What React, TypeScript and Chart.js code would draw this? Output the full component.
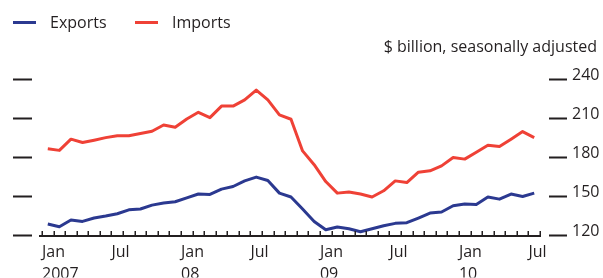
import React, { useEffect, useRef } from 'react';
import { Chart, registerables } from 'chart.js';

Chart.register(...registerables);

const months = [
  'Jan 2007', 'Feb 2007', 'Mar 2007', 'Apr 2007', 'May 2007', 'Jun 2007', 'Jul 2007', 'Aug 2007', 'Sep 2007', 'Oct 2007', 'Nov 2007', 'Dec 2007',
  'Jan 2008', 'Feb 2008', 'Mar 2008', 'Apr 2008', 'May 2008', 'Jun 2008', 'Jul 2008', 'Aug 2008', 'Sep 2008', 'Oct 2008', 'Nov 2008', 'Dec 2008',
  'Jan 2009', 'Feb 2009', 'Mar 2009', 'Apr 2009', 'May 2009', 'Jun 2009', 'Jul 2009', 'Aug 2009', 'Sep 2009', 'Oct 2009', 'Nov 2009', 'Dec 2009',
  'Jan 2010', 'Feb 2010', 'Mar 2010', 'Apr 2010', 'May 2010', 'Jun 2010', 'Jul 2010',
];

const exportsData = [
  129.5, 127.4, 132.6, 131.5, 134.1, 135.6, 137.4, 140.4, 141.0, 144.0, 145.6, 146.6,
  149.6, 152.5, 152.2, 156.3, 158.3, 162.6, 165.5, 162.9, 153.2, 150.2, 141.0, 131.5,
  125.1, 127.2, 125.9, 123.6, 125.9, 128.2, 130.0, 130.5, 134.1, 137.9, 138.7, 143.5,
  144.8, 144.5, 150.2, 148.6, 152.5, 150.6, 153.2,
];

const importsData = [
  187.2, 186.0, 194.6, 192.0, 193.8, 195.8, 197.3, 197.3, 198.9, 200.7, 205.5, 203.8,
  210.1, 215.2, 211.1, 220.0, 220.0, 224.7, 232.3, 224.7, 213.2, 209.9, 185.6, 175.0,
  162.1, 153.2, 154.0, 152.5, 150.2, 155.0, 162.6, 161.3, 169.3, 170.3, 174.1, 180.5,
  179.3, 184.6, 190.0, 188.9, 194.6, 200.4, 195.8,
];

const yTicks = [120, 150, 180, 210, 240];

const xLabelIndex = [0, 6, 12, 18, 24, 30, 36, 42];
const xLabelMonth = ['Jan', 'Jul', 'Jan', 'Jul', 'Jan', 'Jul', 'Jan', 'Jul'];
const xLabelYear = ['2007', '', '08', '', '09', '', '10', ''];

const seriesNames = ['Exports', 'Imports'];
const seriesColors = ['#2b3990', '#ef4136'];
const unitText = '$ billion, seasonally adjusted';

const FONT = '"Open Sans", "Noto Sans", sans-serif';
const INK = '#231f20';

const decor = {
  id: 'decor',
  afterDraw(chart: any) {
    const { ctx, chartArea, scales } = chart;
    const xs = scales.x;
    const ys = scales.y;
    ctx.save();
    ctx.strokeStyle = INK;
    ctx.fillStyle = INK;

    // baseline
    const by = chartArea.bottom - 0.5;
    ctx.lineWidth = 2;
    ctx.beginPath();
    ctx.moveTo(chartArea.left - 3, by);
    ctx.lineTo(chartArea.right + 1, by);
    ctx.stroke();

    // month ticks pointing up
    ctx.lineWidth = 1.5;
    ctx.beginPath();
    for (let i = 0; i <= months.length; i++) {
      const px = Math.round(xs.getPixelForValue(i - 0.5)) + 0.25;
      ctx.moveTo(px, by);
      ctx.lineTo(px, by - 5);
    }
    ctx.stroke();

    // y dashes on both sides
    ctx.lineWidth = 2;
    ctx.beginPath();
    yTicks.forEach((v) => {
      const py = Math.round(ys.getPixelForValue(v)) - 0.5;
      ctx.moveTo(13, py);
      ctx.lineTo(32, py);
      ctx.moveTo(chartArea.right + 9, py);
      ctx.lineTo(chartArea.right + 27, py);
    });
    ctx.stroke();

    // legend
    ctx.font = `16px ${FONT}`;
    ctx.textBaseline = 'alphabetic';
    ctx.textAlign = 'left';
    const legendX = [13, 135];
    seriesNames.forEach((name, i) => {
      ctx.strokeStyle = seriesColors[i];
      ctx.lineWidth = 3;
      ctx.beginPath();
      ctx.moveTo(legendX[i], 22.5);
      ctx.lineTo(legendX[i] + 23, 22.5);
      ctx.stroke();
      ctx.fillStyle = INK;
      ctx.fillText(name, legendX[i] + 37, 28);
    });

    // unit text
    ctx.textAlign = 'right';
    ctx.fillText(unitText, 597, 52);
    ctx.restore();
  },
};

export default function App() {
  const ref = useRef<HTMLCanvasElement | null>(null);

  useEffect(() => {
    if (!ref.current) return;
    const chart = new Chart(ref.current, {
      type: 'line',
      data: {
        datasets: [
          {
            label: seriesNames[0],
            data: exportsData.map((v, i) => ({ x: i, y: v })),
            borderColor: seriesColors[0],
            borderWidth: 3,
            pointRadius: 0,
            tension: 0,
            borderJoinStyle: 'round',
            fill: false,
          },
          {
            label: seriesNames[1],
            data: importsData.map((v, i) => ({ x: i, y: v })),
            borderColor: seriesColors[1],
            borderWidth: 3,
            pointRadius: 0,
            tension: 0,
            borderJoinStyle: 'round',
            fill: false,
          },
        ],
      },
      options: {
        animation: false,
        responsive: true,
        maintainAspectRatio: false,
        layout: { padding: { left: 42, top: 80, right: 0, bottom: 0 } },
        plugins: {
          legend: { display: false },
          tooltip: { enabled: false },
          title: { display: false },
        },
        scales: {
          x: {
            type: 'linear',
            min: -0.5,
            max: months.length - 0.5,
            grid: { display: false, drawTicks: false },
            border: { display: false },
            afterBuildTicks: (scale: any) => {
              const t = [];
              for (let i = 0; i <= months.length; i++) t.push({ value: i - 0.5 });
              scale.ticks = t;
            },
            afterFit: (scale: any) => {
              scale.height = 41;
            },
            ticks: {
              autoSkip: false,
              maxRotation: 0,
              minRotation: 0,
              align: 'start',
              padding: 5,
              color: INK,
              font: { family: FONT, size: 16, lineHeight: 1.375 },
              callback: (value: any) => {
                const idx = Math.round(Number(value) + 0.5);
                const k = xLabelIndex.indexOf(idx);
                if (k < 0) return '';
                return [xLabelMonth[k], xLabelYear[k]];
              },
            },
          },
          y: {
            position: 'right',
            min: 120,
            max: 240,
            grid: { display: true, drawOnChartArea: false, drawTicks: false },
            border: { display: false },
            afterBuildTicks: (scale: any) => {
              scale.ticks = yTicks.map((v) => ({ value: v }));
            },
            afterFit: (scale: any) => {
              scale.width = 63;
            },
            ticks: {
              padding: 32,
              labelOffset: -5,
              color: INK,
              font: { family: FONT, size: 16 },
              callback: (value: any) => String(value),
            },
          },
        },
      },
      plugins: [decor],
    });
    return () => chart.destroy();
  }, []);

  return (
    <div style={{ position: 'fixed', left: 0, top: 0, width: 603, height: 278 }}>
      <canvas ref={ref} />
    </div>
  );
}
